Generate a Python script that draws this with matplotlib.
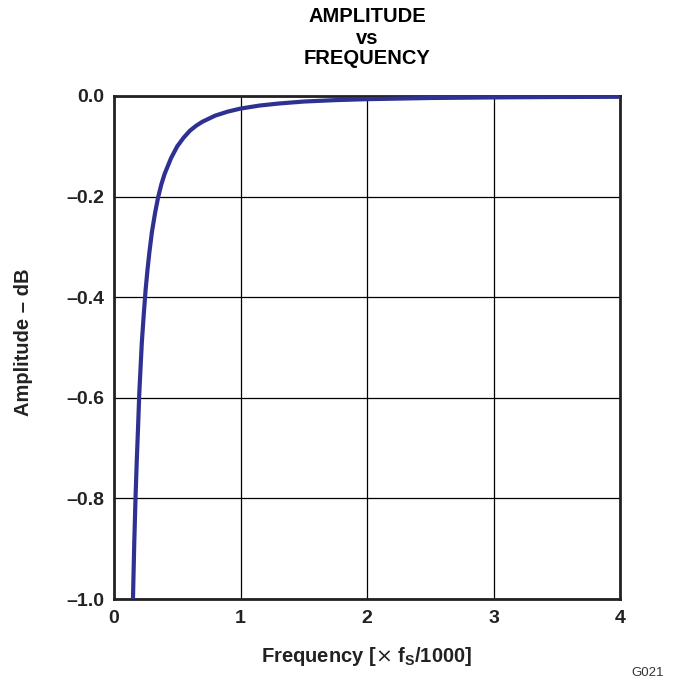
import matplotlib
matplotlib.use("Agg")
import matplotlib.pyplot as plt
from matplotlib.ticker import FixedLocator

plt.rcParams['font.family'] = ['Liberation Sans', 'DejaVu Sans']

freq = [0.150, 0.155, 0.160, 0.165, 0.170, 0.180, 0.190, 0.200, 0.210, 0.220, 0.235,
        0.250, 0.265, 0.280, 0.300, 0.325, 0.350, 0.375, 0.400, 0.450, 0.500, 0.550,
        0.600, 0.650, 0.700, 0.800, 0.900, 1.000, 1.150, 1.300, 1.500, 1.750, 2.000,
        2.500, 3.000, 3.500, 4.000]
amp_db = [-1.000, -0.945, -0.890, -0.845, -0.800, -0.725, -0.660, -0.590, -0.540,
          -0.490, -0.435, -0.385, -0.345, -0.310, -0.270, -0.232, -0.200, -0.175,
          -0.155, -0.124, -0.100, -0.083, -0.069, -0.059, -0.051, -0.039, -0.031,
          -0.025, -0.019, -0.015, -0.011, -0.0082, -0.0063, -0.0040, -0.0028,
          -0.0020, -0.0016]

x_ticks = [0, 1, 2, 3, 4]
x_tick_labels = ['0', '1', '2', '3', '4']
y_ticks = [0.0, -0.2, -0.4, -0.6, -0.8, -1.0]
y_tick_labels = ['0.0', '\u20130.2', '\u20130.4', '\u20130.6', '\u20130.8', '\u20131.0']

fig = plt.figure(figsize=(6.73, 6.78), dpi=100)
ax = fig.add_axes([114/673, 1-599/678, (620-114)/673, (599-96)/678])

ax.plot(freq, amp_db, color='#2e3192', lw=3.0, solid_joinstyle='round',
        solid_capstyle='butt', zorder=3)

ax.set_xlim(0, 4)
ax.set_ylim(-1.0, 0.0)
ax.xaxis.set_major_locator(FixedLocator(x_ticks))
ax.yaxis.set_major_locator(FixedLocator(y_ticks))
ax.set_xticklabels(x_tick_labels, fontsize=14, fontweight='bold', color='#222222')
ax.set_yticklabels(y_tick_labels, fontsize=14, fontweight='bold', color='#222222')
ax.tick_params(length=0)
ax.tick_params(axis='y', pad=7)
ax.tick_params(axis='x', pad=8)
ax.grid(True, color='black', lw=0.9)
for s in ax.spines.values():
    s.set_linewidth(2.0)
    s.set_color('#222222')

fig.text(367/673, 1-17/678, 'AMPLITUDE', ha='center', va='center', fontsize=14.5, fontweight='bold')
fig.text(367/673, 1-38/678, 'vs', ha='center', va='center', fontsize=14.5, fontweight='bold')
fig.text(367/673, 1-58/678, 'FREQUENCY', ha='center', va='center', fontsize=14.5, fontweight='bold')

fig.text(367/673, 1-657/678, r'Frequency [$\times$ f$_\mathregular{S}$/1000]', ha='center', va='center',
         fontsize=14.5, fontweight='bold', color='#222222')
fig.text(24/673, 1-342/678, 'Amplitude \u2013 dB', ha='center', va='center', rotation=90,
         fontsize=14.5, fontweight='bold', color='#222222')
fig.text(648/673, 1-673/678, 'G021', ha='center', va='center', fontsize=9.5, color='#333333')

fig.savefig('out.png', dpi=100)
